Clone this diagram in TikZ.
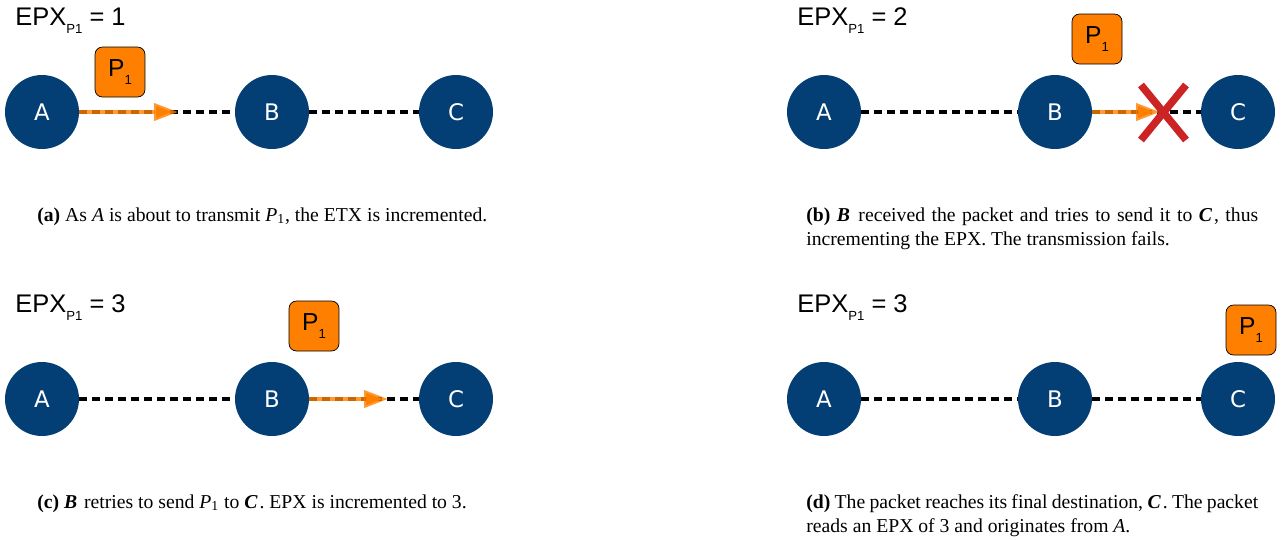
\documentclass[tikz,border=0pt]{standalone}
\usepackage{fontspec}
\setmainfont{Liberation Serif}
\setsansfont{Liberation Sans}
\newfontfamily\stationfont{DejaVu Sans}
\usetikzlibrary{positioning,arrows.meta}

\definecolor{nodeblue}{RGB}{3,62,117}
\definecolor{pktorange}{RGB}{255,128,0}
\definecolor{failred}{RGB}{204,36,36}

\newcommand{\pktsub}[1]{\raisebox{-0.35em}{\fontsize{7.5}{7.5}\selectfont #1}}
\newcommand{\hop}[1]{\textbf{\textit{#1}}\kern0.1em\relax}

\tikzset{
    station/.style={circle,fill=nodeblue,minimum size=1.48cm,inner sep=0pt,
        text=white,font=\stationfont\fontsize{13}{13}\selectfont},
    packet/.style={draw=black,line width=0.4pt,fill=pktorange,
        rounded corners=0.15cm,minimum size=1cm,inner sep=0pt,
        font=\sffamily\fontsize{14}{14}\selectfont},
    link/.style={line width=0.07cm,dash pattern=on 0.15cm off 0.11cm},
    send/.style={pktorange,line width=0.08cm,draw opacity=0.8,
        -{Triangle[length=0.48cm,width=0.34cm]}},
    fail/.style={failred,line width=0.15cm},
    epx/.style={anchor=base west,inner sep=0pt,
        font=\sffamily\fontsize{14.5}{14.5}\selectfont},
    caption/.style={anchor=base west,inner sep=0pt,align=justify,
        text width=9.04cm,
        font=\fontsize{11.2}{14.2}\selectfont\hyphenpenalty10000\relax}
}

\begin{document}
\begin{tikzpicture}[x=0.02cm,y=-0.02cm]
    \useasboundingbox (0,0) rectangle (1282,539);

    % (a) A is about to send P1
    \begin{scope}
        \node[epx] (ea) at (15,25) {EPX\pktsub{P1} = 1};
        \node[station] (Aa) at (42,112) {A};
        \node[station] (Ba) at (272,112) {B};
        \node[station] (Ca) at (456,112) {C};
        \node[packet] (pa) at (120,72) {P\pktsub{1}};
        \coordinate (ta) at (178,112);
        \draw[link] (Aa) -- (Ba);
        \draw[link] (Ba) -- (Ca);
        \draw[send] (Aa) -- (ta);
        \node[caption] (capa) at (37,221) {\textbf{(a)} As \textit{A} is about to
            transmit \textit{P}\textsubscript{1}, the ETX is incremented.};
    \end{scope}

    % (b) B tries C, transmission fails
    \begin{scope}[shift={(782,0)}]
        \node[epx] (eb) at (15,25) {EPX\pktsub{P1} = 2};
        \node[station] (Ab) at (42,112) {A};
        \node[station] (Bb) at (273,112) {B};
        \node[station] (Cb) at (456,112) {C};
        \node[packet] (pb) at (315,39) {P\pktsub{1}};
        \coordinate (tb) at (378,112);
        \draw[link] (Ab) -- (Bb);
        \draw[link] (Bb) -- (Cb);
        \draw[send] (Bb) -- (tb);
        \draw[fail] (359,85) -- (404,140);
        \draw[fail] (404,85) -- (359,140);
        \node[caption] (capb) at (24,221) {\textbf{(b)} \hop{B} received the packet
            and tries to send it to \hop{C}, thus incrementing the EPX. The
            transmission fails.};
    \end{scope}

    % (c) B retries
    \begin{scope}[shift={(0,287)}]
        \node[epx] (ec) at (15,25) {EPX\pktsub{P1} = 3};
        \node[station] (Ac) at (42,112) {A};
        \node[station] (Bc) at (272,112) {B};
        \node[station] (Cc) at (456,112) {C};
        \node[packet] (pc) at (314,39) {P\pktsub{1}};
        \coordinate (tc) at (388,112);
        \draw[link] (Ac) -- (Bc);
        \draw[link] (Bc) -- (Cc);
        \draw[send] (Bc) -- (tc);
        \node[caption] (capc) at (37,221) {\textbf{(c)} \hop{B} retries to send
            \textit{P}\textsubscript{1} to \hop{C}. EPX is incremented to 3.};
    \end{scope}

    % (d) P1 arrives at C
    \begin{scope}[shift={(782,287)}]
        \node[epx] (ed) at (15,25) {EPX\pktsub{P1} = 3};
        \node[station] (Ad) at (42,112) {A};
        \node[station] (Bd) at (273,112) {B};
        \node[station] (Cd) at (456,112) {C};
        \node[packet] (pd) at (469,43) {P\pktsub{1}};
        \draw[link] (Ad) -- (Bd);
        \draw[link] (Bd) -- (Cd);
        \node[caption] (capd) at (24,221) {\textbf{(d)} The packet reaches its final
            destination, \hop{C}. The packet reads an EPX of 3 and originates
            from \textit{A}.};
    \end{scope}
\end{tikzpicture}
\end{document}
